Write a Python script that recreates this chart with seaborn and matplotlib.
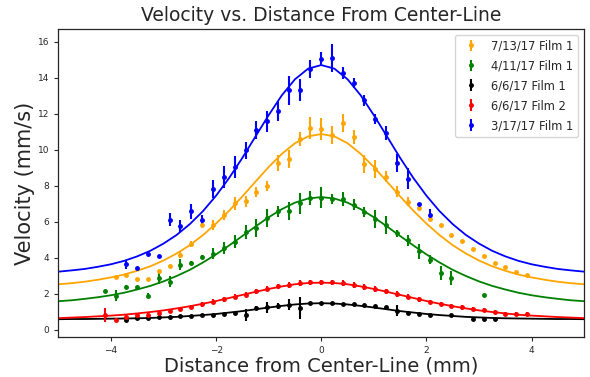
import numpy as np
import pandas as pd
import matplotlib
matplotlib.use('Agg')
import matplotlib.pyplot as plt
import seaborn as sns

# measurement positions (mm from center-line), spacing ~0.206 mm
x_orange = [-3.91, -3.71, -3.50, -3.30, -3.09, -2.88, -2.68, -2.47, -2.27, -2.06,
            -1.85, -1.65, -1.44, -1.24, -1.03, -0.82, -0.62, -0.41, -0.21, 0.00,
            0.21, 0.41, 0.62, 0.82, 1.03, 1.24, 1.44, 1.65, 1.85, 2.06,
            2.27, 2.47, 2.68, 2.88, 3.09, 3.30, 3.50, 3.71, 3.91]
v_orange = [2.93, 3.06, 2.81, 2.81, 3.24, 3.56, 4.18, 4.77, 5.80, 5.82,
            6.37, 7.02, 7.13, 7.65, 7.98, 9.26, 9.48, 10.58, 11.22, 11.15,
            10.83, 11.48, 10.69, 9.20, 8.93, 8.50, 7.66, 7.11, 6.75, 6.16,
            5.80, 5.24, 4.91, 4.50, 4.11, 3.70, 3.48, 3.20, 3.02]
e_orange = [0.05, 0.05, 0.05, 0.05, 0.05, 0.05, 0.2, 0.15, 0.1, 0.25,
            0.3, 0.35, 0.3, 0.3, 0.3, 0.45, 0.5, 0.4, 0.6, 0.6,
            0.5, 0.5, 0.4, 0.5, 0.5, 0.3, 0.3, 0.25, 0.05, 0.05,
            0.05, 0.05, 0.05, 0.05, 0.05, 0.05, 0.05, 0.05, 0.05]

x_green = [-4.12, -3.91, -3.71, -3.50, -3.30, -3.09, -2.88, -2.68, -2.47, -2.27,
           -2.06, -1.85, -1.65, -1.44, -1.24, -1.03, -0.82, -0.62, -0.41, -0.21,
           0.00, 0.21, 0.41, 0.62, 0.82, 1.03, 1.24, 1.44, 1.65, 1.85,
           2.06, 2.27, 2.47, 3.09]
v_green = [2.13, 1.89, 2.39, 2.36, 1.90, 2.85, 2.67, 3.61, 3.72, 4.03,
           4.22, 4.54, 4.90, 5.42, 5.68, 6.20, 6.57, 6.57, 7.02, 7.31,
           7.34, 7.26, 7.26, 6.94, 6.54, 6.17, 5.80, 5.37, 4.96, 4.35,
           3.89, 3.15, 2.87, 1.94]
e_green = [0.05, 0.3, 0.1, 0.1, 0.15, 0.3, 0.3, 0.3, 0.1, 0.1,
           0.3, 0.35, 0.35, 0.4, 0.5, 0.5, 0.3, 0.5, 0.6, 0.4,
           0.6, 0.3, 0.4, 0.3, 0.3, 0.5, 0.5, 0.2, 0.3, 0.4,
           0.25, 0.4, 0.4, 0.05]

x_black = [-3.71, -3.50, -3.30, -3.09, -2.88, -2.68, -2.47, -2.27, -2.06, -1.85,
           -1.65, -1.44, -1.24, -1.03, -0.82, -0.62, -0.41, -0.21, 0.00, 0.21,
           0.41, 0.62, 0.82, 1.03, 1.24, 1.44, 1.65, 1.85, 2.06, 2.47,
           2.88, 3.09, 3.30]
v_black = [0.56, 0.66, 0.63, 0.69, 0.74, 0.78, 0.78, 0.83, 0.85, 0.89,
           0.96, 0.83, 1.20, 1.24, 1.33, 1.40, 1.20, 1.48, 1.48, 1.48,
           1.44, 1.43, 1.37, 1.30, 1.24, 1.07, 0.96, 0.87, 0.80, 0.80,
           0.59, 0.59, 0.59]
e_black = [0.05, 0.05, 0.05, 0.05, 0.05, 0.05, 0.05, 0.05, 0.05, 0.05,
           0.05, 0.32, 0.1, 0.33, 0.15, 0.3, 0.6, 0.05, 0.05, 0.05,
           0.05, 0.05, 0.05, 0.05, 0.05, 0.3, 0.05, 0.05, 0.05, 0.05,
           0.05, 0.05, 0.05]

x_red = [-4.12, -3.91, -3.71, -3.50, -3.30, -3.09, -2.88, -2.68, -2.47, -2.27,
         -2.06, -1.85, -1.65, -1.44, -1.24, -1.03, -0.82, -0.62, -0.41, -0.21,
         0.00, 0.21, 0.41, 0.62, 0.82, 1.03, 1.24, 1.44, 1.65, 1.85,
         2.06, 2.27, 2.47, 2.68, 2.88, 3.09, 3.30, 3.50, 3.71, 3.91]
v_red = [0.83, 0.56, 0.74, 0.80, 0.85, 0.93, 1.04, 1.17, 1.26, 1.41,
         1.57, 1.70, 1.85, 1.96, 2.13, 2.28, 2.41, 2.50, 2.59, 2.63,
         2.63, 2.63, 2.59, 2.50, 2.37, 2.26, 2.13, 1.98, 1.85, 1.70,
         1.56, 1.43, 1.33, 1.24, 1.15, 1.09, 0.98, 0.89, 0.87, 0.87]
e_red = [0.37, 0.1, 0.15, 0.12, 0.12, 0.12, 0.12, 0.12, 0.12, 0.12,
         0.12, 0.15, 0.15, 0.15, 0.15, 0.15, 0.15, 0.15, 0.15, 0.15,
         0.15, 0.15, 0.15, 0.15, 0.15, 0.15, 0.15, 0.15, 0.15, 0.15,
         0.12, 0.12, 0.12, 0.12, 0.12, 0.12, 0.12, 0.1, 0.1, 0.1]

x_blue = [-3.71, -3.50, -3.30, -3.09, -2.88, -2.68, -2.47, -2.27, -2.06, -1.85,
          -1.65, -1.44, -1.24, -1.03, -0.82, -0.62, -0.41, -0.21, 0.00, 0.21,
          0.41, 0.62, 0.82, 1.03, 1.24, 1.44, 1.65, 1.85, 2.06]
v_blue = [3.64, 3.43, 4.22, 4.11, 6.11, 5.76, 6.57, 6.11, 7.80, 8.50,
          9.04, 9.96, 11.11, 11.57, 12.17, 13.30, 13.33, 14.48, 15.04, 15.09,
          14.26, 13.70, 12.74, 11.70, 10.93, 9.26, 8.40, 7.00, 6.39]
e_blue = [0.25, 0.05, 0.05, 0.05, 0.35, 0.35, 0.4, 0.25, 0.5, 0.6,
          0.6, 0.45, 0.5, 0.6, 0.55, 0.8, 0.6, 0.5, 0.4, 0.8,
          0.35, 0.3, 0.3, 0.3, 0.4, 0.5, 0.6, 0.05, 0.3]

# fitted curves, every 0.25 mm
curve_x = [-5.0, -4.75, -4.5, -4.25, -4.0, -3.75, -3.5, -3.25, -3.0, -2.75,
           -2.5, -2.25, -2.0, -1.75, -1.5, -1.25, -1.0, -0.75, -0.5, -0.25,
           0.0, 0.25, 0.5, 0.75, 1.0, 1.25, 1.5, 1.75, 2.0, 2.25,
           2.5, 2.75, 3.0, 3.25, 3.5, 3.75, 4.0, 4.25, 4.5, 4.75, 5.0]
fit_blue = [3.23, 3.30, 3.38, 3.50, 3.64, 3.83, 4.08, 4.39, 4.79, 5.27,
            5.87, 6.59, 7.45, 8.44, 9.55, 10.74, 11.92, 13.02, 13.91, 14.50,
            14.70, 14.50, 13.91, 13.02, 11.92, 10.74, 9.55, 8.44, 7.45, 6.59,
            5.87, 5.27, 4.79, 4.39, 4.08, 3.83, 3.64, 3.50, 3.38, 3.30, 3.23]
fit_orange = [2.53, 2.59, 2.67, 2.78, 2.91, 3.07, 3.28, 3.53, 3.85, 4.24,
              4.70, 5.26, 5.90, 6.62, 7.41, 8.23, 9.04, 9.77, 10.36, 10.74,
              10.87, 10.74, 10.36, 9.77, 9.04, 8.23, 7.41, 6.62, 5.90, 5.26,
              4.70, 4.24, 3.85, 3.53, 3.28, 3.07, 2.91, 2.78, 2.67, 2.59, 2.53]
fit_green = [1.59, 1.64, 1.72, 1.81, 1.92, 2.06, 2.24, 2.44, 2.69, 2.99,
             3.33, 3.74, 4.19, 4.69, 5.21, 5.74, 6.25, 6.70, 7.06, 7.29,
             7.37, 7.29, 7.06, 6.70, 6.25, 5.74, 5.21, 4.69, 4.19, 3.74,
             3.33, 2.99, 2.69, 2.44, 2.24, 2.06, 1.92, 1.81, 1.72, 1.64, 1.59]
fit_red = [0.65, 0.68, 0.71, 0.75, 0.79, 0.84, 0.91, 0.99, 1.08, 1.19,
           1.31, 1.45, 1.60, 1.77, 1.94, 2.11, 2.27, 2.41, 2.53, 2.60,
           2.62, 2.60, 2.53, 2.41, 2.27, 2.11, 1.94, 1.77, 1.60, 1.45,
           1.31, 1.19, 1.08, 0.99, 0.91, 0.84, 0.79, 0.75, 0.71, 0.68, 0.65]
fit_black = [0.59, 0.60, 0.60, 0.61, 0.62, 0.63, 0.64, 0.66, 0.69, 0.72,
             0.77, 0.82, 0.88, 0.96, 1.04, 1.14, 1.24, 1.33, 1.41, 1.46,
             1.48, 1.46, 1.41, 1.33, 1.24, 1.14, 1.04, 0.96, 0.88, 0.82,
             0.77, 0.72, 0.69, 0.66, 0.64, 0.63, 0.62, 0.61, 0.60, 0.60, 0.59]

labels = ['7/13/17 Film 1', '4/11/17 Film 1', '6/6/17 Film 1', '6/6/17 Film 2', '3/17/17 Film 1']
colors = ['orange', 'green', 'black', 'red', 'blue']

sns.set_style('ticks')
plt.rcParams['font.family'] = ['DejaVu Sans']

fig, ax = plt.subplots(figsize=(5.9, 3.77), dpi=100)
fig.subplots_adjust(left=0.099, right=0.990, bottom=0.106, top=0.923)

series = [
    (x_orange, v_orange, e_orange, fit_orange),
    (x_green, v_green, e_green, fit_green),
    (x_black, v_black, e_black, fit_black),
    (x_red, v_red, e_red, fit_red),
    (x_blue, v_blue, e_blue, fit_blue),
]

for (xs, vs, es, fit), lab, c in zip(series, labels, colors):
    ax.errorbar(xs, vs, yerr=es, fmt='.', color=c, ms=5, elinewidth=1.5,
                capsize=0, label=lab)
    sns.lineplot(x=curve_x, y=fit, color=c, lw=1.3, ax=ax, legend=False)

ax.set_xlim(-5, 5)
ax.set_ylim(-0.4, 16.7)
ax.set_xticks([-4, -2, 0, 2, 4])
ax.set_yticks([0, 2, 4, 6, 8, 10, 12, 14, 16])
ax.tick_params(labelsize=6.5, length=3, width=0.8)
for s in ax.spines.values():
    s.set_linewidth(0.9)

ax.set_title('Velocity vs. Distance From Center-Line', fontsize=13.5)
ax.set_xlabel('Distance from Center-Line (mm)', fontsize=14, labelpad=1)
ax.set_ylabel('Velocity (mm/s)', fontsize=15, labelpad=2)
ax.legend(loc='upper right', fontsize=8.3, labelspacing=0.6)

fig.savefig('out.png', dpi=100)
